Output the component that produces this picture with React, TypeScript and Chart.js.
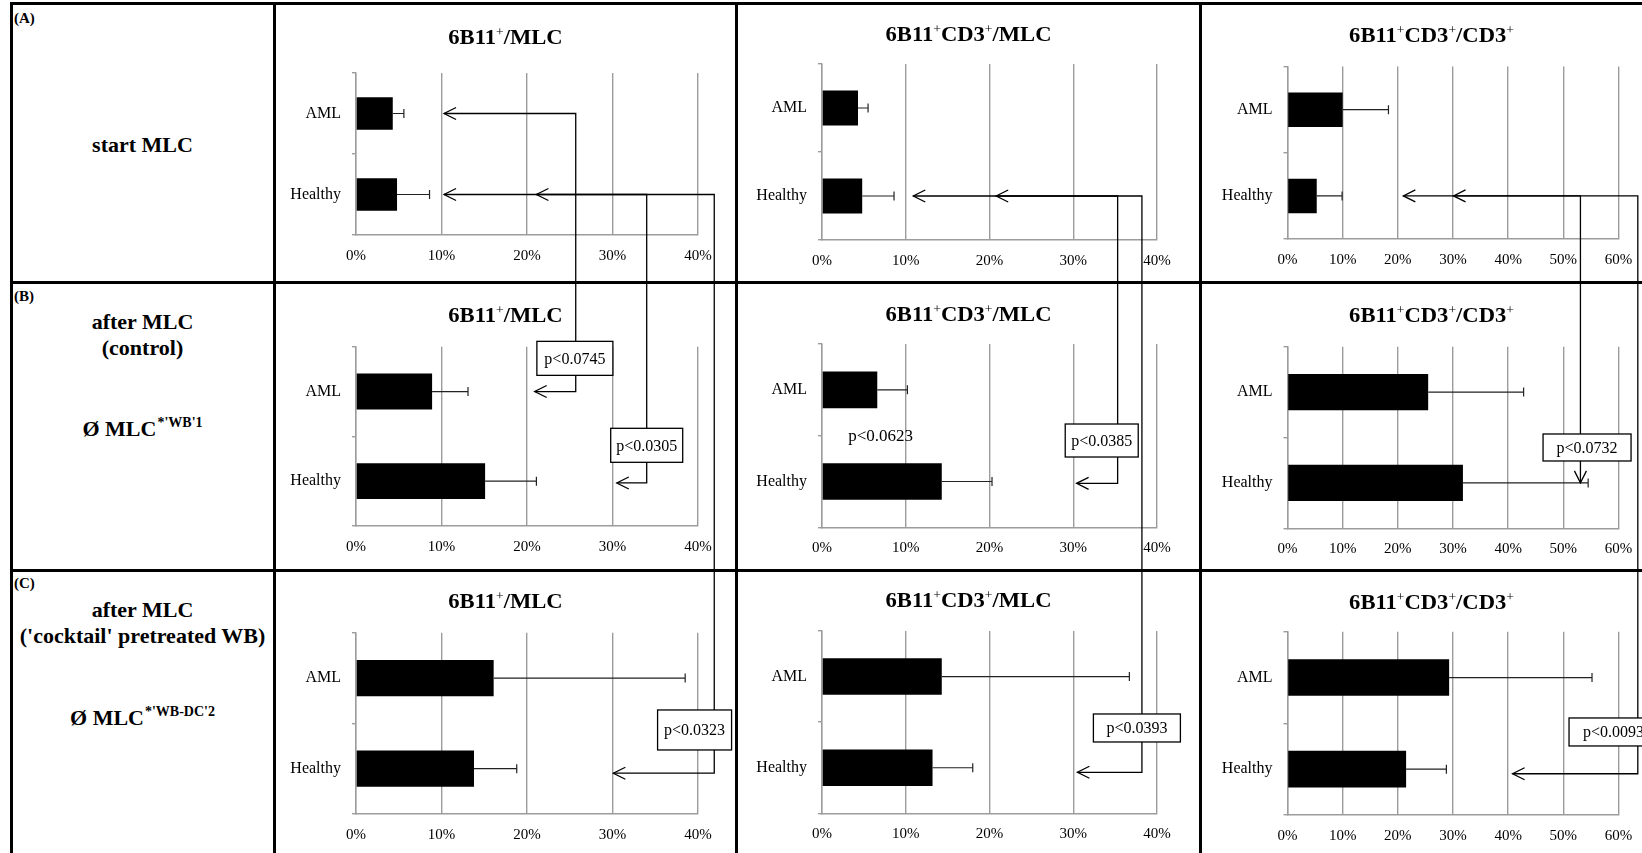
import React, { useEffect, useRef } from 'react';
import { Chart, registerables } from 'chart.js';

Chart.register(...registerables);

const SERIF = '"Liberation Serif", "Times New Roman", Times, serif';

// ---------- data ----------
const categories = ['AML', 'Healthy'];
const panelTitles = ['6B11⁺/MLC', '6B11⁺CD3⁺/MLC', '6B11⁺CD3⁺/CD3⁺'];
const axisMax = [40, 40, 60];
const axisStep = 10;

// [panel][category] means (%) and SD (%)
const startMean = [[4.3, 4.8], [4.3, 4.8], [10.0, 5.3]];
const startSd = [[1.3, 3.8], [1.2, 3.8], [8.3, 4.6]];
const controlMean = [[8.9, 15.1], [6.6, 14.3], [25.5, 31.8]];
const controlSd = [[4.2, 6.0], [3.6, 6.0], [17.3, 22.7]];
const cocktailMean = [[16.1, 13.8], [14.3, 13.2], [29.3, 21.5]];
const cocktailSd = [[22.4, 5.0], [22.4, 4.8], [25.9, 7.3]];

// comparisons (from row A to row B/C, same panel column)
const pLabels = ['p<0.0745', 'p<0.0305', 'p<0.0323', 'p<0.0385', 'p<0.0393', 'p<0.0732', 'p<0.0093'];
const linkCol = [0, 0, 0, 1, 1, 2, 2];
const linkFromCat = [0, 1, 1, 1, 1, 1, 1];
const linkToRow = [1, 1, 2, 1, 2, 1, 2];
const linkToCat = [0, 1.02, 1.05, 1.02, 1.05, 1, 1.05];
const linkFromTip = [10.3, 21.1, 10.3, 20.8, 10.9, 30.1, 21.0];
const linkVia = [25.7, 34.0, 41.9, 35.3, 38.2, 53.1, 63.5];
const linkToTip: (number | null)[] = [20.9, 30.5, 30.1, 30.4, 30.5, null, 40.8];
const freeLabel = 'p<0.0623';

// ---------- layout ----------
const FIG_W = 1642;
const FIG_H = 853;
const CELL_W = 463;
const colLeft = [274, 737, 1200];
const rowTop = [4, 282, 571];
const rowH = [278, 289, 282];
const plotLeft = [356, 822, 1287.5];
const plotRight = [698, 1157, 1618.5];
// [row][col] -> [plotTop, plotBottom, titleY]
const plotBox = [
  [[73, 235, 37], [64, 240, 34], [66.5, 239, 35]],
  [[346.7, 526, 315], [344, 527.3, 314], [346.7, 528.3, 315]],
  [[632.7, 814, 601], [631, 813.3, 600], [631.7, 815, 602]],
];
// annotation boxes: [x value, y category value, width, height]
const boxGeom = [
  [25.6, -0.37, 76, 34],
  [34.0, 0.6, 72, 34],
  [39.6, 0.573, 74, 40],
  [33.4, 0.553, 73, 33],
  [37.6, 0.564, 87, 28],
  [54.3, 0.61, 88, 27],
  [59.1, 0.594, 89, 28],
];
const freeLabelPos = [7.0, 0.51];

const GRID = '#9c9c9c';
const TITLE_SIZE = 20;
const TITLE_STRETCH = 1.13;

const errorBarPlugin = {
  id: 'errorBars',
  afterDatasetsDraw(chart: any, _args: any, opts: any) {
    const sds: number[] = opts.sds || [];
    const meta = chart.getDatasetMeta(0);
    const xs = chart.scales.x;
    const ctx = chart.ctx;
    ctx.save();
    ctx.strokeStyle = '#222';
    ctx.lineWidth = 1.2;
    meta.data.forEach((bar: any, i: number) => {
      const v = chart.data.datasets[0].data[i] as number;
      const x1 = xs.getPixelForValue(v);
      const x2 = xs.getPixelForValue(v + sds[i]);
      const y = bar.y;
      ctx.beginPath();
      ctx.moveTo(x1, y);
      ctx.lineTo(x2, y);
      ctx.moveTo(x2, y - 4.5);
      ctx.lineTo(x2, y + 4.5);
      ctx.stroke();
    });
    ctx.restore();
  },
};

// panel title with small superscript "+" signs
const titlePlugin = {
  id: 'panelTitle',
  afterDraw(chart: any, _args: any, opts: any) {
    const text: string = opts.text || '';
    const ctx = chart.ctx;
    const segs: { t: string; sup: boolean }[] = [];
    let buf = '';
    for (const ch of text) {
      if (ch === '⁺') {
        if (buf) segs.push({ t: buf, sup: false });
        buf = '';
        segs.push({ t: '+', sup: true });
      } else buf += ch;
    }
    if (buf) segs.push({ t: buf, sup: false });
    const mainFont = `bold ${TITLE_SIZE}px ${SERIF}`;
    const supFont = `${Math.round(TITLE_SIZE * 0.62)}px ${SERIF}`;
    ctx.save();
    let w = 0;
    const widths = segs.map((s) => {
      ctx.font = s.sup ? supFont : mainFont;
      const m = ctx.measureText(s.t).width;
      w += m;
      return m;
    });
    ctx.translate(opts.x, opts.y + TITLE_SIZE * 0.33);
    ctx.scale(TITLE_STRETCH, 1);
    ctx.fillStyle = '#000';
    ctx.textBaseline = 'alphabetic';
    ctx.textAlign = 'left';
    let cx = -w / 2;
    segs.forEach((s, i) => {
      ctx.font = s.sup ? supFont : mainFont;
      ctx.fillText(s.t, cx, s.sup ? -TITLE_SIZE * 0.36 : 0);
      cx += widths[i];
    });
    ctx.restore();
  },
};

const rowMeans = [startMean, controlMean, cocktailMean];
const rowSds = [startSd, controlSd, cocktailSd];

export default function App() {
  const canvasRefs = useRef<(HTMLCanvasElement | null)[]>([]);
  const overlayRef = useRef<HTMLCanvasElement | null>(null);

  useEffect(() => {
    const charts: any[][] = [[], [], []];
    for (let r = 0; r < 3; r++) {
      for (let c = 0; c < 3; c++) {
        const canvas = canvasRefs.current[r * 3 + c];
        if (!canvas) continue;
        const top = rowTop[r];
        const left = colLeft[c];
        const [pTop, pBottom, tY] = plotBox[r][c];
        const xH = top + rowH[r] - pBottom;
        const yW = plotLeft[c] - left;
        const padRight = left + CELL_W - plotRight[c];
        const chart = new Chart(canvas, {
          type: 'bar',
          data: {
            labels: categories,
            datasets: [
              {
                data: rowMeans[r][c],
                backgroundColor: '#000',
                borderWidth: 0,
                barPercentage: 0.4,
                categoryPercentage: 1,
              },
            ],
          },
          options: {
            indexAxis: 'y',
            animation: false,
            responsive: false,
            devicePixelRatio: 1,
            events: [],
            layout: { padding: { left: 0, right: padRight, top: pTop - top, bottom: 0 } },
            plugins: {
              legend: { display: false },
              tooltip: { enabled: false },
              title: { display: false },
              errorBars: { sds: rowSds[r][c] },
              panelTitle: { text: panelTitles[c], x: CELL_W / 2, y: tY - top },
            } as any,
            scales: {
              x: {
                type: 'linear',
                min: 0,
                max: axisMax[c],
                ticks: {
                  stepSize: axisStep,
                  color: '#000',
                  font: { family: SERIF, size: 15 },
                  padding: 12,
                  callback: (v: any) => `${v}%`,
                },
                grid: { color: GRID, lineWidth: 1.4, drawTicks: false },
                border: { color: GRID, width: 1.4 },
                afterFit: (s: any) => {
                  s.height = xH;
                },
              },
              y: {
                type: 'category',
                ticks: { color: '#000', font: { family: SERIF, size: 16 }, padding: 11 },
                grid: {
                  color: GRID,
                  lineWidth: 1.4,
                  drawOnChartArea: false,
                  drawTicks: true,
                  tickLength: 4,
                  offset: true,
                },
                border: { color: GRID, width: 1.4 },
                afterFit: (s: any) => {
                  s.width = yW;
                },
              },
            },
          } as any,
          plugins: [errorBarPlugin, titlePlugin],
        });
        charts[r][c] = chart;
      }
    }

    // overlay: comparison brackets
    const ov = overlayRef.current;
    if (ov) {
      const ctx = ov.getContext('2d')!;
      ctx.clearRect(0, 0, FIG_W, FIG_H);
      const px = (r: number, c: number, v: number) => colLeft[c] + charts[r][c].scales.x.getPixelForValue(v);
      const py = (r: number, c: number, v: number) => rowTop[r] + charts[r][c].scales.y.getPixelForValue(v);
      ctx.strokeStyle = '#000';
      ctx.lineWidth = 1.3;
      const headLeft = (x: number, y: number) => {
        ctx.beginPath();
        ctx.moveTo(x + 12, y - 6);
        ctx.lineTo(x, y);
        ctx.lineTo(x + 12, y + 6);
        ctx.stroke();
      };
      const headDown = (x: number, y: number) => {
        ctx.beginPath();
        ctx.moveTo(x - 6, y - 12);
        ctx.lineTo(x, y);
        ctx.lineTo(x + 6, y - 12);
        ctx.stroke();
      };
      for (let i = 0; i < pLabels.length; i++) {
        const c = linkCol[i];
        const x0 = px(0, c, linkFromTip[i]);
        const y0 = py(0, c, linkFromCat[i]);
        const xv = px(0, c, linkVia[i]);
        const tr = linkToRow[i];
        const y1 = py(tr, c, linkToCat[i]);
        const tt = linkToTip[i];
        ctx.beginPath();
        ctx.moveTo(x0, y0);
        ctx.lineTo(xv, y0);
        ctx.lineTo(xv, y1);
        if (tt !== null) ctx.lineTo(px(tr, c, tt), y1);
        ctx.stroke();
        headLeft(x0, y0);
        if (tt !== null) headLeft(px(tr, c, tt), y1);
        else headDown(xv, y1);
      }
      ctx.font = `16px ${SERIF}`;
      ctx.textAlign = 'center';
      ctx.textBaseline = 'middle';
      for (let i = 0; i < pLabels.length; i++) {
        const c = linkCol[i];
        const tr = linkToRow[i];
        const [bx, by, bw, bh] = boxGeom[i];
        const cx = px(tr, c, bx);
        const cy = py(tr, c, by);
        ctx.fillStyle = '#fff';
        ctx.fillRect(cx - bw / 2, cy - bh / 2, bw, bh);
        ctx.strokeRect(cx - bw / 2, cy - bh / 2, bw, bh);
        ctx.fillStyle = '#000';
        ctx.fillText(pLabels[i], cx, cy + 1);
      }
      ctx.font = `17px ${SERIF}`;
      ctx.fillText(freeLabel, px(1, 1, freeLabelPos[0]), py(1, 1, freeLabelPos[1]));
    }

    return () => {
      charts.forEach((row) => row.forEach((ch) => ch && ch.destroy()));
    };
  }, []);

  const vLines = [11, 274.5, 736.5, 1200];
  const hLines = [3.5, 282, 570.5];

  const centerText = (cy: number, content: React.ReactNode, key: string) => (
    <div
      key={key}
      style={{
        position: 'absolute',
        left: 11,
        width: 263,
        top: cy - 14,
        height: 28,
        lineHeight: '28px',
        textAlign: 'center',
        fontWeight: 'bold',
        fontSize: 22,
        whiteSpace: 'nowrap',
      }}
    >
      {content}
    </div>
  );
  const sup = (t: string) => (
    <span style={{ fontSize: 14, position: 'relative', top: -9, marginLeft: 1 }}>{t}</span>
  );
  const letter = (cy: number, t: string) => (
    <div
      key={t}
      style={{ position: 'absolute', left: 14, top: cy - 9, height: 18, lineHeight: '18px', fontSize: 15, fontWeight: 'bold' }}
    >
      {t}
    </div>
  );

  return (
    <div
      style={{
        position: 'absolute',
        left: 0,
        top: 0,
        width: FIG_W,
        height: FIG_H,
        overflow: 'hidden',
        background: '#fff',
        fontFamily: SERIF,
        color: '#000',
      }}
    >
      {letter(18, '(A)')}
      {letter(296, '(B)')}
      {letter(583, '(C)')}
      {centerText(144.5, 'start MLC', 't1')}
      {centerText(321.5, 'after MLC', 't2')}
      {centerText(347.7, '(control)', 't3')}
      {centerText(429, <span>Ø MLC{sup("*'WB'1")}</span>, 't4')}
      {centerText(609.5, 'after MLC', 't5')}
      {centerText(635.6, "('cocktail' pretreated WB)", 't6')}
      {centerText(718, <span>Ø MLC{sup("*'WB-DC'2")}</span>, 't7')}

      {[0, 1, 2].map((r) =>
        [0, 1, 2].map((c) => (
          <canvas
            key={`c${r}${c}`}
            ref={(el) => {
              canvasRefs.current[r * 3 + c] = el;
            }}
            width={CELL_W}
            height={rowH[r]}
            style={{
              position: 'absolute',
              left: colLeft[c],
              top: rowTop[r],
              width: CELL_W,
              height: rowH[r],
              zIndex: 1,
            }}
          />
        ))
      )}

      {vLines.map((x, i) => (
        <div
          key={`v${i}`}
          style={{ position: 'absolute', left: x - 1.5, top: 2, width: 3, height: FIG_H, background: '#000', zIndex: 2 }}
        />
      ))}
      {hLines.map((y, i) => (
        <div
          key={`h${i}`}
          style={{ position: 'absolute', left: 9.5, top: y - 1.5, width: FIG_W, height: 3, background: '#000', zIndex: 2 }}
        />
      ))}

      <canvas
        ref={overlayRef}
        width={FIG_W}
        height={FIG_H}
        style={{ position: 'absolute', left: 0, top: 0, width: FIG_W, height: FIG_H, zIndex: 3, pointerEvents: 'none' }}
      />
    </div>
  );
}
